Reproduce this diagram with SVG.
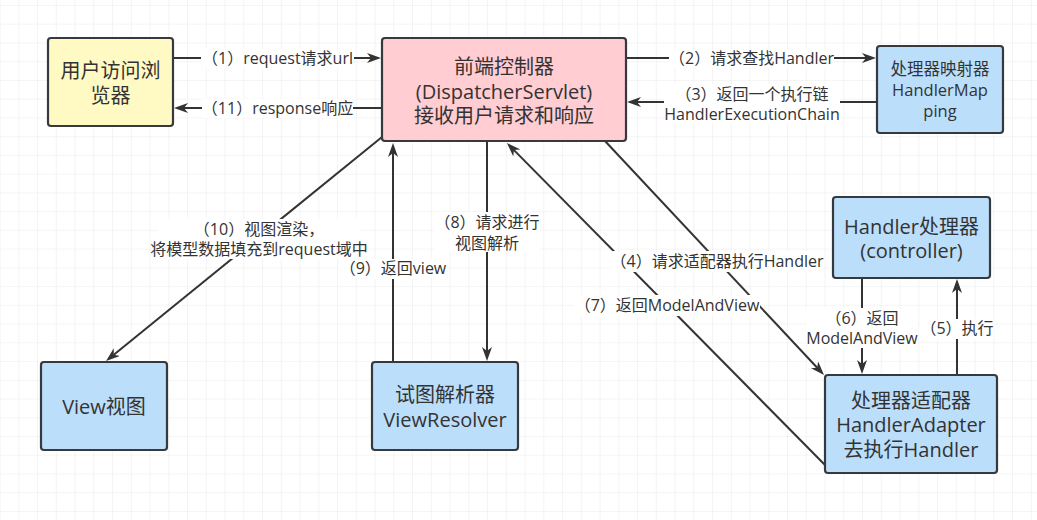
<svg xmlns="http://www.w3.org/2000/svg" width="1037" height="520" viewBox="0 0 1037 520">
<style>
.box{stroke:#36393d;stroke-width:2.2}
.yellow{fill:#fff9c4}
.pink{fill:#ffcdd2}
.blue{fill:#bbdefb}
.nt{font-family:"Open Sans","Noto Sans CJK SC",sans-serif;font-size:20px;fill:#333333;text-anchor:middle}
.nts{font-family:"Open Sans","Noto Sans CJK SC",sans-serif;font-size:16.5px;fill:#333333;text-anchor:middle}
.lt{font-family:"Open Sans","Noto Sans CJK SC",sans-serif;font-size:16px;fill:#333333;text-anchor:middle}
.edge{stroke:#333333;stroke-width:2;fill:none;marker-end:url(#arr)}
.lbg{fill:#ffffff}
</style>
<defs>
<pattern id="grid" x="-0.45" y="5" width="18.75" height="18.74" patternUnits="userSpaceOnUse">
<path d="M0,0 H18.75 M0,0 V18.74" stroke="#ebebeb" stroke-width="1.2" fill="none"/>
</pattern>
<marker id="arr" viewBox="0 0 14 10" refX="4" refY="5" markerWidth="14" markerHeight="10" orient="auto" markerUnits="userSpaceOnUse">
<path d="M14,5 L0,0 L4,5 L0,10 Z" fill="#333333"/>
</marker>
</defs>
<rect width="1037" height="520" fill="#ffffff"/>
<rect width="1037" height="520" fill="url(#grid)"/>

<g id="connectors">
<line class="edge" x1="173" y1="58" x2="371" y2="58"/>
<line class="edge" x1="382" y1="108" x2="184" y2="108"/>
<line class="edge" x1="626" y1="58" x2="866" y2="58"/>
<line class="edge" x1="877" y1="102" x2="637" y2="102"/>
<line class="edge" x1="487" y1="141" x2="487" y2="351"/>
<line class="edge" x1="393" y1="362" x2="393" y2="153"/>
<line class="edge" x1="382" y1="137" x2="113.8" y2="354.7"/>
<line class="edge" x1="825" y1="465" x2="514" y2="150.1"/>
<line class="edge" x1="605" y1="141" x2="817.2" y2="367.7"/>
<line class="edge" x1="862" y1="278" x2="862" y2="364"/>
<line class="edge" x1="957" y1="375" x2="957" y2="289"/>

<rect class="lbg" x="201" y="49" width="153" height="19"/>
<text class="lt" x="277.5" y="63.5">（1）request请求url</text>
<rect class="lbg" x="202" y="99" width="151" height="19"/>
<text class="lt" x="277.5" y="113.5">（11）response响应</text>
<rect class="lbg" x="669" y="49" width="165" height="19"/>
<text class="lt" x="751.5" y="63.5">（2）请求查找Handler</text>
<rect class="lbg" x="664" y="84" width="176" height="40"/>
<text class="lt" x="752" y="99.75">（3）返回一个执行链<tspan x="752" dy="20">HandlerExecutionChain</tspan></text>
<rect class="lbg" x="158" y="219" width="202" height="40"/>
<text class="lt" x="259" y="234.5">（10）视图渲染，<tspan x="259" dy="20">将模型数据填充到request域中</tspan></text>
<rect class="lbg" x="339.5" y="259" width="107" height="20"/>
<text class="lt" x="393" y="274">（9）返回view</text>
<rect class="lbg" x="434.5" y="212" width="105" height="40"/>
<text class="lt" x="487" y="227.5">（8）请求进行<tspan x="487" dy="21">视图解析</tspan></text>
<rect class="lbg" x="574" y="295" width="186" height="21"/>
<text class="lt" x="667" y="310.5">（7）返回ModelAndView</text>
<rect class="lbg" x="610.5" y="251" width="213" height="21"/>
<text class="lt" x="717" y="267">（4）请求适配器执行Handler</text>
<rect class="lbg" x="806" y="308" width="112" height="40"/>
<text class="lt" x="862" y="323.5">（6）返回<tspan x="862" dy="20">ModelAndView</tspan></text>
<rect class="lbg" x="920.5" y="319" width="73" height="20"/>
<text class="lt" x="957" y="334">（5）执行</text>
</g>

<g id="user">
<rect class="box yellow" x="48" y="38" width="125" height="88" rx="3"/>
<text class="nt" x="110.5" y="78">用户访问浏<tspan x="110.5" dy="24.5">览器</tspan></text>
</g>
<g id="dispatcher">
<rect class="box pink" x="382" y="38" width="244" height="103" rx="3"/>
<text class="nt" x="504" y="74">前端控制器<tspan x="504" dy="24.5">(DispatcherServlet)</tspan><tspan x="504" dy="24.5">接收用户请求和响应</tspan></text>
</g>
<g id="handlerMapping">
<rect class="box blue" x="877" y="46" width="126" height="87" rx="3"/>
<text class="nts" x="940" y="75">处理器映射器<tspan x="940" dy="21">HandlerMap</tspan><tspan x="940" dy="21">ping</tspan></text>
</g>
<g id="handler">
<rect class="box blue" x="833" y="197" width="157" height="81" rx="3"/>
<text class="nt" x="911.5" y="233.5">Handler处理器<tspan x="911.5" dy="24.5">(controller)</tspan></text>
</g>
<g id="handlerAdapter">
<rect class="box blue" x="825" y="375" width="172" height="98" rx="3"/>
<text class="nt" x="911" y="407.5">处理器适配器<tspan x="911" dy="24.5">HandlerAdapter</tspan><tspan x="911" dy="24.5">去执行Handler</tspan></text>
</g>
<g id="view">
<rect class="box blue" x="41" y="362" width="126" height="88" rx="3"/>
<text class="nt" x="104" y="414">View视图</text>
</g>
<g id="viewResolver">
<rect class="box blue" x="372" y="362" width="146" height="88" rx="3"/>
<text class="nt" x="445" y="402">试图解析器<tspan x="445" dy="24.5">ViewResolver</tspan></text>
</g>
</svg>
